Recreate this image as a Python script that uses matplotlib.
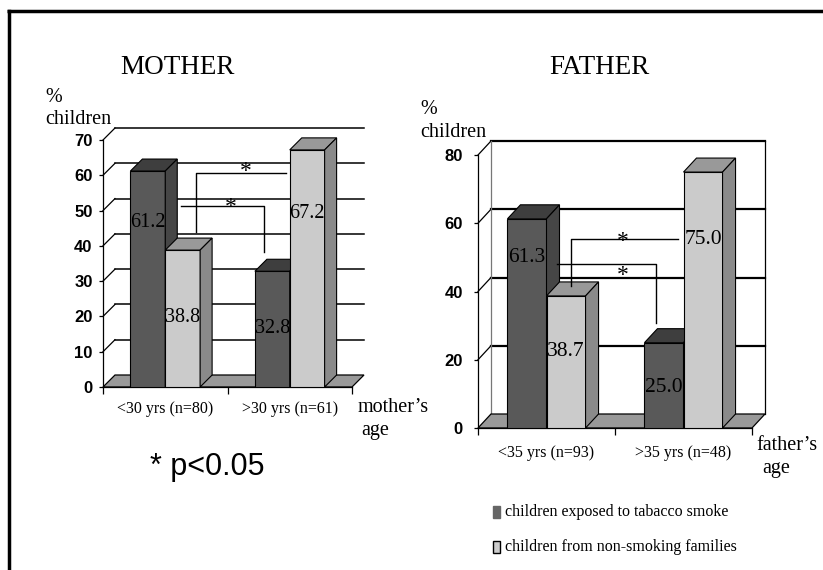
import matplotlib
matplotlib.use("Agg")
import matplotlib.pyplot as plt
from matplotlib.patches import Polygon, Rectangle
from matplotlib.lines import Line2D
from matplotlib import font_manager

# percentages of children per parent age group
mother_groups = ["<30 yrs (n=80)", ">30 yrs (n=61)"]
mother_exposed = [61.2, 32.8]
mother_nonsmoking = [38.8, 67.2]

father_groups = ["<35 yrs (n=93)", ">35 yrs (n=48)"]
father_exposed = [61.3, 25.0]
father_nonsmoking = [38.7, 75.0]

legend_labels = ["children exposed to tabacco smoke", "children from non-smoking families"]

W, H = 823, 570
SERIF = "Liberation Serif"
names = {f.name for f in font_manager.fontManager.ttflist}
NARROW = "Liberation Sans Narrow" if "Liberation Sans Narrow" in names else "Liberation Sans"

DARK = ("#595959", "#3e3e3e", "#464646")    # front, top, side
LIGHT = ("#cbcbcb", "#999999", "#8a8a8a")


def fx(x):
    return x / W


def fy(y):
    return 1 - y / H


def bar3d(ax, x0, w, v, dx, dy, cols):
    front, top, side = cols
    ax.bar(x0, v, width=w, align="edge", color=front, edgecolor="black", lw=0.8, zorder=3)
    ax.add_patch(Polygon([(x0, v), (x0 + w, v), (x0 + w + dx, v + dy), (x0 + dx, v + dy)],
                         closed=True, fc=top, ec="black", lw=0.8, zorder=3, clip_on=False))
    ax.add_patch(Polygon([(x0 + w, 0), (x0 + w + dx, dy), (x0 + w + dx, v + dy), (x0 + w, v)],
                         closed=True, fc=side, ec="black", lw=0.8, zorder=3, clip_on=False))


def panel(rect, groups, exposed, nonsmoking, ymax, ystep, depth_px, bar_w, boxed,
          label_y, brackets, stars, fsize, tick_pad, xpad):
    ax = fig.add_axes(rect)
    ax.set_xlim(0, 2)
    ax.set_ylim(0, ymax)
    ax.patch.set_visible(False)
    for s in ("top", "right"):
        ax.spines[s].set_visible(False)
    ax.spines["left"].set_linewidth(0.9)
    ax.spines["bottom"].set_linewidth(0.9)

    wpx = rect[2] * W
    hpx = rect[3] * H
    dx = depth_px[0] * 2 / wpx
    dy = depth_px[1] * ymax / hpx
    glw = 1.1 if not boxed else 1.6

    ticks = list(range(0, ymax + 1, ystep))
    # back wall and left wall lines
    for v in ticks[1:]:
        ax.add_line(Line2D([0, dx], [v, v + dy], color="black", lw=0.9, zorder=1, clip_on=False))
        ax.add_line(Line2D([dx, 2 + dx], [v + dy, v + dy], color="black", lw=glw, zorder=1, clip_on=False))
    if boxed:
        ax.add_line(Line2D([dx, dx], [dy, ymax + dy], color="#777777", lw=0.9, zorder=1, clip_on=False))
        ax.add_line(Line2D([2 + dx, 2 + dx], [dy, ymax + dy], color="black", lw=0.9, zorder=1, clip_on=False))

    # floor
    ax.add_patch(Polygon([(0, 0), (2, 0), (2 + dx, dy), (dx, dy)], closed=True,
                         fc="#999999", ec="black", lw=0.9, zorder=1.5, clip_on=False))

    for i in range(2):
        x0 = i + 0.5 - bar_w
        bar3d(ax, x0, bar_w, exposed[i], dx, dy, DARK)
        bar3d(ax, x0 + bar_w, bar_w, nonsmoking[i], dx, dy, LIGHT)
        ax.text(x0 + bar_w / 2, label_y[0][i], f"{exposed[i]:.1f}", ha="center", va="center",
                family=SERIF, fontsize=fsize, zorder=6)
        ax.text(x0 + 1.5 * bar_w, label_y[1][i], f"{nonsmoking[i]:.1f}", ha="center", va="center",
                family=SERIF, fontsize=fsize, zorder=6)

    for pts in brackets:
        xs, ys = zip(*pts)
        ax.add_line(Line2D(xs, ys, color="black", lw=1.0, zorder=5, clip_on=False))
    for sx, sy in stars:
        ax.text(sx, sy, "*", ha="center", va="center", family=SERIF, fontsize=17, zorder=6)

    ax.set_yticks(ticks)
    ax.tick_params(axis="y", length=3, width=0.9, pad=tick_pad)
    for lab in ax.get_yticklabels():
        lab.set_fontfamily(NARROW)
        lab.set_fontweight("bold")
        lab.set_fontsize(12)

    ax.set_xticks([0, 1, 2], minor=True)
    ax.set_xticks([0.5, 1.5])
    ax.set_xticklabels(groups, family=SERIF, fontsize=11.5)
    ax.tick_params(axis="x", which="major", length=0, pad=xpad)
    ax.tick_params(axis="x", which="minor", length=5, width=0.9)
    return ax


fig = plt.figure(figsize=(W / 100, H / 100), dpi=100)

# frame
fig.add_artist(Line2D([fx(7), 1], [fy(11), fy(11)], color="black", lw=2.5, solid_capstyle="butt"))
fig.add_artist(Line2D([fx(8.5), fx(8.5)], [fy(11), 0], color="black", lw=2.5, solid_capstyle="projecting"))

panel([fx(103), fy(387), (352 - 103) / W, (387 - 140) / H],
      mother_groups, mother_exposed, mother_nonsmoking, 70, 10, (12, 12), 0.28, False,
      [[46.7, 16.7], [19.8, 49.3]],
      [[(0.75, 43.9), (0.75, 60.6), (1.47, 60.6)], [(0.63, 51.3), (1.29, 51.3), (1.29, 38.2)]],
      [(1.15, 61.0), (1.03, 51.0)], 14.5, 4.5, 10)

panel([fx(478), fy(428), (752 - 478) / W, (428 - 155) / H],
      father_groups, father_exposed, father_nonsmoking, 80, 20, (13, 14), 0.285, True,
      [[50.1, 12.0], [22.3, 55.1]],
      [[(0.68, 41.6), (0.68, 55.4), (1.46, 55.4)], [(0.58, 48.1), (1.30, 48.1), (1.30, 30.8)]],
      [(1.06, 54.6), (1.06, 44.6)], 15.5, 8, 12)

# titles and axis captions
fig.text(fx(177), fy(68), "MOTHER", ha="center", va="center", family=SERIF, fontsize=19.5)
fig.text(fx(599), fy(68), "FATHER", ha="center", va="center", family=SERIF, fontsize=19.5)
for x, y1, y2 in [(45, 98, 120), (420, 110, 132)]:
    fig.text(fx(x), fy(y1), "%", ha="left", va="center", family=SERIF, fontsize=14.5)
    fig.text(fx(x), fy(y2), "children", ha="left", va="center", family=SERIF, fontsize=14.5)
fig.text(fx(358), fy(408), "mother\u2019s", ha="left", va="center", family=SERIF, fontsize=14.5)
fig.text(fx(361), fy(431), "age", ha="left", va="center", family=SERIF, fontsize=14.5)
fig.text(fx(756), fy(446), "father\u2019s", ha="left", va="center", family=SERIF, fontsize=14.5)
fig.text(fx(762), fy(469), "age", ha="left", va="center", family=SERIF, fontsize=14.5)

fig.text(fx(150), fy(467), "* p<0.05", ha="left", va="center", family="Liberation Sans", fontsize=22)

# legend
for (y, fc, ec), lab in zip([(512, "#666666", "#666666"), (547, "#cccccc", "black")], legend_labels):
    fig.add_artist(Rectangle((fx(493), fy(y + 6)), 7 / W, 12 / H, fc=fc, ec=ec, lw=1.0))
    fig.text(fx(505), fy(y), lab, ha="left", va="center", family=SERIF, fontsize=11.5)

fig.savefig("out.png", dpi=100)
